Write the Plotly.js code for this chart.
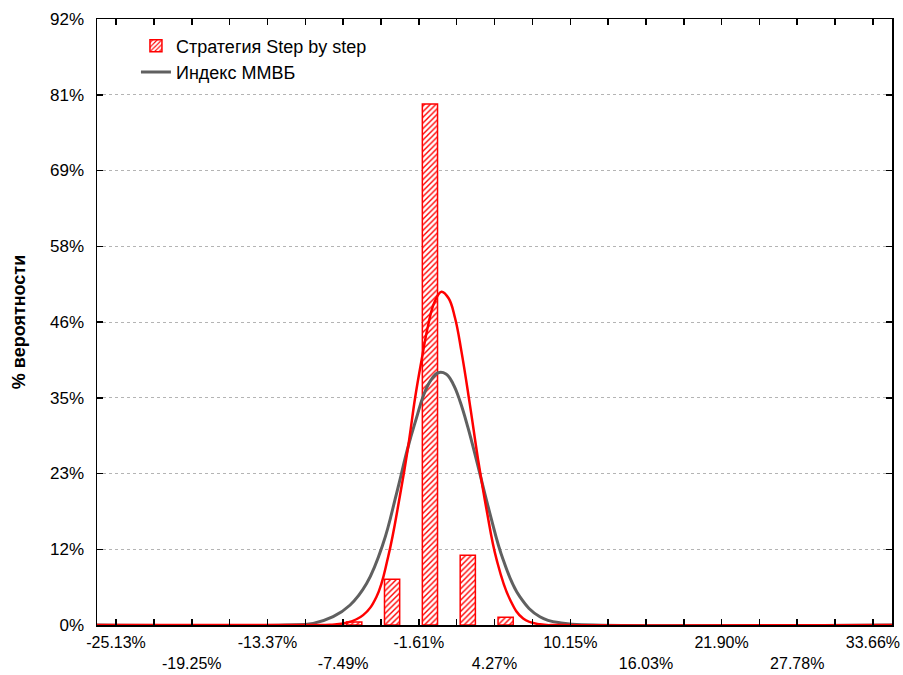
<!DOCTYPE html>
<html>
<head>
<meta charset="utf-8">
<script src="https://cdn.plot.ly/plotly-3.0.1.min.js"></script>
<style>html,body{margin:0;padding:0;background:#fff;}#chart{width:903px;height:675px;}</style>
</head>
<body>
<div id="chart"></div>
<script>
// Histogram of the strategy returns (bin centres, % of observations)
const barX = [-7.49, -4.55, -1.61, 1.33, 4.27];
const barY = [0.45, 6.94, 79.1, 10.58, 1.17];

// Fitted curve of the strategy
const stratX = [-26.61, -10.0, -8.5, -7.2, -5.94, -4.9, -3.99, -3.09, -2.44, -1.9, -1.4, -0.9, -0.4, 0.15, 0.7, 1.2, 1.7, 2.35, 3.0, 3.65, 4.42, 5.46, 6.49, 7.79, 9.5, 35.14];
const stratY = [0, 0, 0.05, 0.35, 1.5, 4.3, 10.4, 19.5, 27.1, 34.5, 40.2, 45.4, 49.0, 50.6, 49.6, 46.6, 41.5, 33.5, 25.0, 17.5, 10.0, 3.9, 1.0, 0.1, 0, 0];

// Fitted curve of the MICEX index
const indexX = [-26.61, -12.0, -9.82, -8.27, -6.97, -5.67, -4.38, -3.34, -2.44, -1.8, -1.28, -0.7, -0.1, 0.5, 1.05, 1.6, 2.2, 2.87, 3.9, 4.94, 6.23, 7.79, 9.6, 12.0, 35.14];
const indexY = [0, 0, 0.25, 1.26, 3.0, 6.3, 12.4, 20.0, 27.1, 31.4, 34.7, 37.1, 38.3, 38.1, 36.6, 33.9, 30.0, 25.0, 17.0, 9.9, 4.3, 1.26, 0.26, 0, 0];

// Axis ticks
const xTickVals = [-25.13, -22.19, -19.25, -16.31, -13.37, -10.43, -7.49, -4.55, -1.61, 1.33, 4.27, 7.21, 10.15, 13.09, 16.03, 18.97, 21.90, 24.84, 27.78, 30.72, 33.66];
const xTickText = ['-25.13%', '', '<br>-19.25%', '', '-13.37%', '', '<br>-7.49%', '', '-1.61%', '', '<br>4.27%', '', '10.15%', '', '<br>16.03%', '', '21.90%', '', '<br>27.78%', '', '33.66%'];
const yTickVals = [0, 11.5, 23, 34.5, 46, 57.5, 69, 80.5, 92];
const yTickText = ['0%', '12%', '23%', '35%', '46%', '58%', '69%', '81%', '92%'];

const seriesNames = ['Стратегия Step by step', 'Индекс ММВБ'];
const yTitle = '% вероятности';

const FONT = 'Liberation Sans, Arial, sans-serif';

const traces = [
  {
    type: 'bar', x: barX, y: barY, name: seriesNames[0],
    width: 1.18, offset: 0.27,
    marker: {
      color: '#ffffff',
      line: {color: '#ff0000', width: 1.5},
      pattern: {shape: '/', fgcolor: '#ff0000', bgcolor: '#ffffff', size: 4, solidity: 0.35}
    },
    hoverinfo: 'skip'
  },
  {
    type: 'scatter', mode: 'lines', x: indexX, y: indexY, name: seriesNames[1],
    line: {color: '#606060', width: 3, shape: 'spline', smoothing: 1.2},
    hoverinfo: 'skip'
  },
  {
    type: 'scatter', mode: 'lines', x: stratX, y: stratY, name: seriesNames[0],
    showlegend: false,
    line: {color: '#ff0000', width: 2.5, shape: 'spline', smoothing: 1.2},
    hoverinfo: 'skip'
  }
];

const layout = {
  width: 903, height: 675,
  margin: {l: 97, r: 11, t: 19, b: 50},
  paper_bgcolor: '#ffffff', plot_bgcolor: '#ffffff',
  font: {family: FONT, size: 17, color: '#000000'},
  showlegend: true,
  legend: {
    x: 0.049, y: 0.986, xanchor: 'left', yanchor: 'top',
    bgcolor: 'rgba(255,255,255,0)', font: {family: FONT, size: 18, color: '#000'},
    traceorder: 'normal', tracegroupgap: 0
  },
  bargap: 0,
  xaxis: {
    range: [-26.61, 35.14],
    tickmode: 'array', tickvals: xTickVals, ticktext: xTickText,
    ticks: 'inside', ticklen: 6, tickwidth: 1.5, tickcolor: '#000',
    showline: true, linecolor: '#000', linewidth: 1.5, mirror: 'ticks',
    showgrid: false, zeroline: false,
    tickfont: {family: FONT, size: 16, color: '#000'},
    ticklabelstandoff: 2,
    fixedrange: true
  },
  yaxis: {
    range: [0, 92],
    tickmode: 'array', tickvals: yTickVals, ticktext: yTickText,
    ticks: 'inside', ticklen: 6, tickwidth: 1.5, tickcolor: '#000',
    showline: true, linecolor: '#000', linewidth: 1.5, mirror: 'ticks',
    showgrid: true, gridcolor: '#b4b4b4', griddash: 'dot', gridwidth: 1,
    zeroline: false,
    tickfont: {family: FONT, size: 17, color: '#000'},
    ticklabelstandoff: 8,
    title: {text: yTitle, font: {family: FONT, size: 18, color: '#000', weight: 'bold'}, standoff: 20},
    fixedrange: true
  }
};

Plotly.newPlot('chart', traces, layout, {displayModeBar: false, staticPlot: true});
</script>
</body>
</html>
